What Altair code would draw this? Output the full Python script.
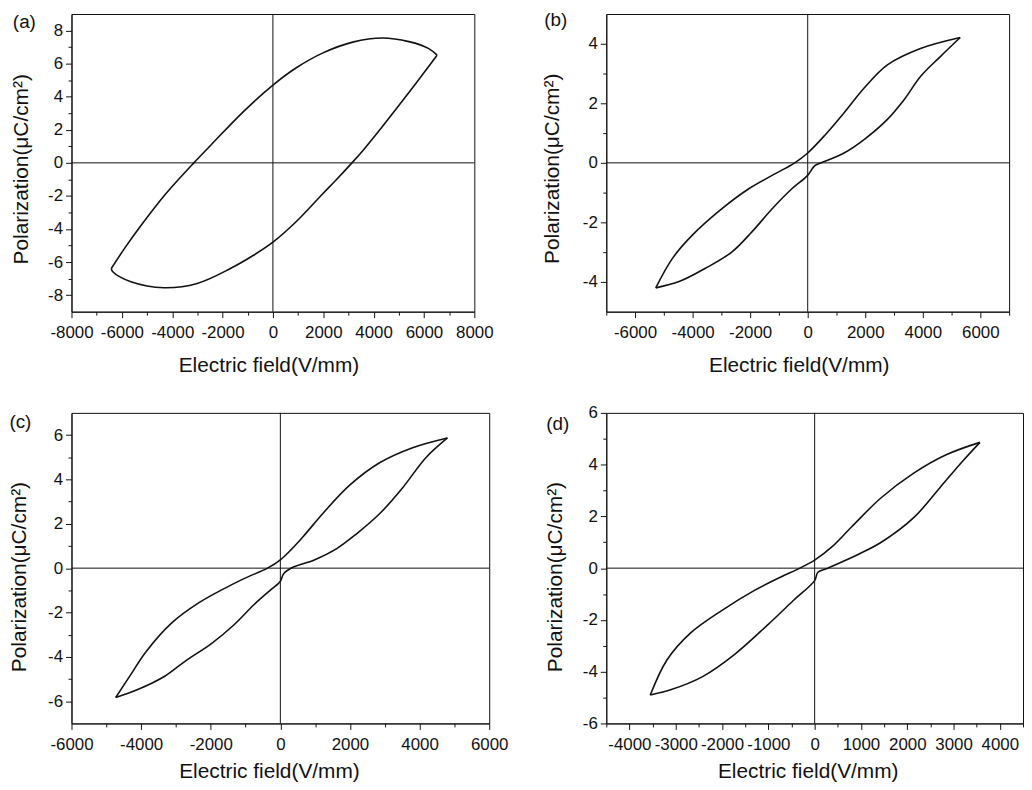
import altair as alt
import pandas as pd

# ---------------- data ----------------
# (a)
a_up_E = [6520, 6190, 5400, 4350, 3170, 1990, 930, 0, -1170, -2480, -3140, -4320, -5240, -5900, -6420]
a_up_P = [6.51, 6.91, 7.33, 7.55, 7.30, 6.65, 5.75, 4.70, 3.10, 1.05, 0.0, -1.99, -3.79, -5.19, -6.39]
a_lo_E = [-6420, -6360, -5640, -4320, -3010, -1690, -770, 0, 930, 1990, 2480, 3140, 3560, 4350, 5400, 5900, 6520]
a_lo_P = [-6.39, -6.59, -7.19, -7.55, -7.29, -6.39, -5.59, -4.80, -3.55, -1.85, -1.08, 0.0, 0.72, 2.20, 4.25, 5.25, 6.51]

# (b)
b_up_E = [5300, 3920, 2770, 1970, 1280, 590, 10, -450, -1250, -2060, -2980, -4010, -4700, -5280]
b_up_P = [4.21, 3.84, 3.29, 2.52, 1.70, 0.92, 0.34, 0.0, -0.43, -0.88, -1.54, -2.43, -3.21, -4.20]
b_lo_E = [-5280, -4470, -3550, -2630, -1940, -1250, -560, -10, 240, 470, 1280, 1970, 2770, 3350, 3920, 4610, 5300]
b_lo_P = [-4.20, -3.99, -3.54, -2.99, -2.32, -1.56, -0.88, -0.43, -0.10, 0.0, 0.34, 0.79, 1.46, 2.12, 2.90, 3.57, 4.21]

# (c)
c_up_E = [4800, 3800, 2850, 2000, 1240, 670, 290, 10, -370, -1030, -1600, -2360, -3120, -3880, -4260, -4730]
c_up_P = [5.87, 5.43, 4.75, 3.75, 2.50, 1.45, 0.80, 0.39, 0.0, -0.46, -0.91, -1.58, -2.47, -3.81, -4.71, -5.83]
c_lo_E = [-4730, -4080, -3310, -2740, -1980, -1330, -760, -280, -10, 100, 390, 960, 1620, 2190, 2850, 3520, 4180, 4800]
c_lo_P = [-5.83, -5.46, -4.86, -4.20, -3.40, -2.55, -1.65, -0.98, -0.61, -0.24, 0.06, 0.36, 0.88, 1.55, 2.45, 3.64, 4.98, 5.87]

# (d)
d_up_E = [3570, 2840, 2140, 1430, 800, 390, 0, -320, -740, -1300, -2000, -2690, -3190, -3550]
d_up_P = [4.86, 4.38, 3.67, 2.71, 1.60, 0.85, 0.31, 0.0, -0.35, -0.86, -1.63, -2.52, -3.55, -4.90]
d_lo_E = [-3550, -3110, -2420, -1720, -1020, -460, 0, 70, 280, 950, 1430, 2140, 2700, 3190, 3570]
d_lo_P = [-4.90, -4.70, -4.19, -3.32, -2.20, -1.25, -0.48, -0.16, 0.0, 0.54, 0.99, 1.95, 3.10, 4.12, 4.86]

panel_labels = ["(a)", "(b)", "(c)", "(d)"]
x_title = "Electric field(V/mm)"
y_title = "Polarization(\u03bcC/cm\u00b2)"

INK = "#111111"
FONT = "Liberation Sans"


def panel(upE, upP, loE, loP, xdom, xminor, xmajor, ydom, w, h, label,
          lab_x, lab_y, ytx, yty, xtx, xty):
    df = pd.DataFrame({
        "E": upE + loE,
        "P": upP + loP,
        "branch": ["up"] * len(upE) + ["lo"] * len(loE),
    })
    xvals = list(range(xdom[0], xdom[1] + 1, xminor))
    # unlabeled ticks at the very ends of the y range would only add empty labels
    yvals = [v for v in range(ydom[0], ydom[1] + 1) if not (v in ydom and v % 2 != 0)]
    xaxis = alt.Axis(
        values=xvals,
        labelExpr=f"datum.value % {xmajor} === 0 ? '' + datum.value : ''",
        tickSize={"condition": {"test": f"datum.value % {xmajor} === 0", "value": 6}, "value": 3.5},
        labelPadding=7,
        title=x_title, titleX=xtx, titleY=xty,
    )
    yaxis = alt.Axis(
        values=yvals,
        labelExpr="datum.value % 2 === 0 ? '' + datum.value : ''",
        tickSize={"condition": {"test": "datum.value % 2 === 0", "value": 6}, "value": 3.5},
        labelPadding=3,
        title=y_title, titleX=ytx, titleY=yty,
    )
    xs = alt.Scale(domain=xdom, nice=False, zero=False)
    ys = alt.Scale(domain=ydom, nice=False, zero=False)

    vrule = alt.Chart(pd.DataFrame({"E": [0]})).mark_rule(color=INK, strokeWidth=1).encode(
        x=alt.X("E:Q", scale=xs, axis=xaxis))
    hrule = alt.Chart(pd.DataFrame({"P": [0]})).mark_rule(color=INK, strokeWidth=1).encode(
        y=alt.Y("P:Q", scale=ys, axis=yaxis))
    line = alt.Chart(df).mark_line(color=INK, strokeWidth=1.6, interpolate="catmull-rom").encode(
        x=alt.X("E:Q", scale=xs, axis=xaxis),
        y=alt.Y("P:Q", scale=ys, axis=yaxis),
        detail="branch:N",
    )
    txt = alt.Chart(pd.DataFrame({"t": [label]})).mark_text(
        font=FONT, fontSize=19, color=INK, align="center", baseline="middle").encode(
        x=alt.value(lab_x), y=alt.value(lab_y), text="t:N")
    return alt.layer(vrule, hrule, line, txt).properties(width=w, height=h)


pa = panel(a_up_E, a_up_P, a_lo_E, a_lo_P, [-8000, 8000], 1000, 2000, [-9, 9], 406, 300,
           panel_labels[0], -47.5, 8, -40, 156, 198.5, 43)
pb = panel(b_up_E, b_up_P, b_lo_E, b_lo_P, [-7000, 7000], 1000, 2000, [-5, 5], 406, 300,
           panel_labels[1], -51, 6.5, -44, 155.5, 194, 43)
pc = panel(c_up_E, c_up_P, c_lo_E, c_lo_P, [-6000, 6000], 1000, 2000, [-7, 7], 421, 313,
           panel_labels[2], -51.5, 9, -42, 165, 199, 38)
pd_ = panel(d_up_E, d_up_P, d_lo_E, d_lo_P, [-4500, 4500], 500, 1000, [-6, 6], 420, 313,
            panel_labels[3], -49, 11, -41, 165, 203, 38)

chart = alt.concat(
    pa, pb, pc, pd_, columns=2,
    spacing={"row": 102, "column": 118},
    bounds="flush", align="each",
).properties(
    padding={"left": 0, "top": 0, "right": 0, "bottom": 0},
    background="white",
).configure_view(
    stroke=INK, strokeWidth=1,
).configure_axis(
    grid=False,
    domainColor=INK, domainWidth=1,
    tickColor=INK, tickWidth=1,
    labelFont=FONT, labelFontSize=17, labelColor=INK,
    labelFlush=False, labelOverlap=False,
    titleFont=FONT, titleFontSize=21, titleFontWeight="normal", titleColor=INK,
)

chart.save("out.html", embed_options={"renderer": "svg", "actions": False})
